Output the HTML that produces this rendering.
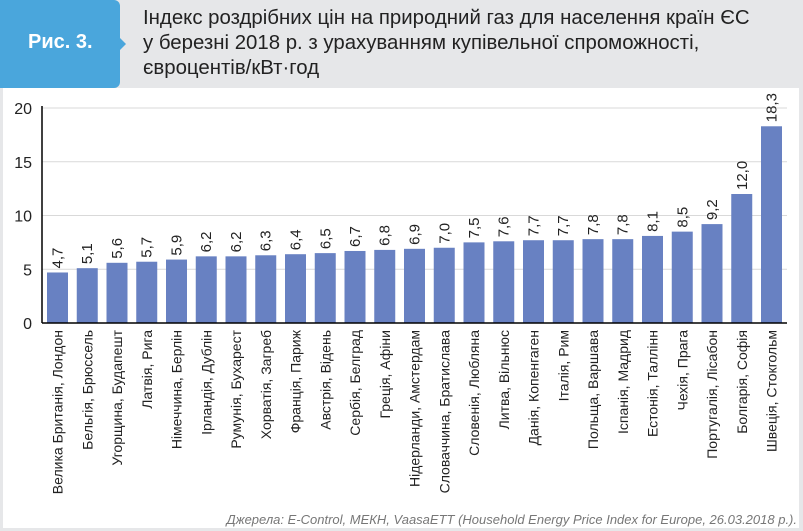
<!DOCTYPE html>
<html><head><meta charset="utf-8">
<style>
body{margin:0;width:803px;height:531px;background:#e6e7e9;overflow:hidden;font-family:"Liberation Sans",sans-serif;}
#wrap{position:relative;width:803px;height:531px;}
#badge{position:absolute;left:0;top:0;width:120px;height:88px;background:#4aa6dc;border-radius:0 6px 6px 0;}
#badge:after{content:"";position:absolute;right:-6px;top:38px;border-left:6px solid #4aa6dc;border-top:6px solid transparent;border-bottom:6px solid transparent;}
#badge span{position:absolute;left:28px;top:31px;color:#fff;font-weight:bold;font-size:20px;}
#title{position:absolute;left:143px;top:6px;font-size:20.4px;line-height:25px;color:#222;white-space:nowrap;}
#panel{position:absolute;left:3px;top:88px;width:796px;height:440px;background:#fff;}
svg{position:absolute;left:0;top:0;}
</style></head><body>
<div id="wrap">
<div id="panel"></div>
<div id="badge"><span>Рис. 3.</span></div>
<div id="title">Індекс роздрібних цін на природний газ для населення країн ЄС<br>у березні 2018 р. з урахуванням купівельної спроможності,<br>євроцентів/кВт·год</div>
<svg id="chart" width="803" height="531"></svg>
</div>
<script>
const categories=["Велика Британія, Лондон","Бельгія, Брюссель","Угорщина, Будапешт","Латвія, Рига","Німеччина, Берлін","Ірландія, Дублін","Румунія, Бухарест","Хорватія, Загреб","Франція, Париж","Австрія, Відень","Сербія, Белград","Греція, Афіни","Нідерланди, Амстердам","Словаччина, Братислава","Словенія, Любляна","Литва, Вільнюс","Данія, Копенгаген","Італія, Рим","Польща, Варшава","Іспанія, Мадрид","Естонія, Таллінн","Чехія, Прага","Португалія, Лісабон","Болгарія, Софія","Швеція, Стокгольм"];
const values=[4.7,5.1,5.6,5.7,5.9,6.2,6.2,6.3,6.4,6.5,6.7,6.8,6.9,7.0,7.5,7.6,7.7,7.7,7.8,7.8,8.1,8.5,9.2,12.0,18.3];
const yTicks=[0,5,10,15,20];
const svg=document.getElementById('chart');
const NS="http://www.w3.org/2000/svg";
const x0=42,pitch=29.75,bw=21,y0=323,yScale=10.75;
const y=v=>y0-v*yScale;
const xb=i=>x0+5+i*pitch;
function mk(t,a){const e=document.createElementNS(NS,t);for(const k in a)e.setAttribute(k,a[k]);svg.appendChild(e);return e;}
yTicks.forEach(t=>{
  if(t>0){const g=mk('line',{x1:x0,x2:787,y1:y(t),y2:y(t),stroke:'#d9d9d9','stroke-width':1});
  
  }
  const l=mk('text',{x:32,y:y(t)+6,'text-anchor':'end','font-size':16,fill:'#222'});
  l.textContent=t;
  
  
});
values.forEach((v,i)=>{
  const r=mk('rect',{x:xb(i),y:y(v),width:bw,height:v*yScale,fill:'#6881c2'});
  
  
  const cx=xb(i)+bw/2+5;
  const vl=mk('text',{x:cx,y:y(v)-4,'font-size':15,fill:'#222',transform:`rotate(-90 ${cx} ${y(v)-4})`});
  vl.textContent=v.toFixed(1).replace('.',',');
  
  
  const ly=330;
  const cl=mk('text',{x:cx,y:ly,'text-anchor':'end','font-size':14,fill:'#222',transform:`rotate(-90 ${cx} ${ly})`});
  cl.textContent=categories[i];
  
  
});
const ax=mk('line',{x1:x0,x2:x0,y1:y(20)-2,y2:y0,stroke:'#000','stroke-width':1.5});


const bx=mk('line',{x1:x0,x2:787,y1:y0,y2:y0,stroke:'#000','stroke-width':1.5});


const src=mk('text',{x:797,y:524,'text-anchor':'end','font-size':13,'font-style':'italic',fill:'#777'});
src.textContent="Джерела: E-Control, МЕКН, VaasaETT (Household Energy Price Index for Europe, 26.03.2018 р.).";


</script>
</body></html>
